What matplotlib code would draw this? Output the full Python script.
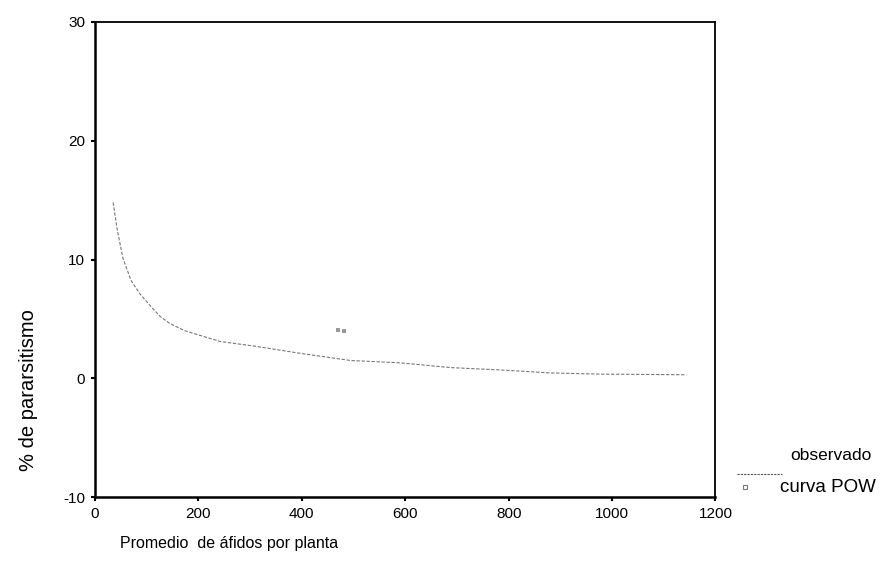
import matplotlib
matplotlib.use("Agg")
import matplotlib.pyplot as plt
from matplotlib.lines import Line2D

plt.rcParams['font.family'] = ['Liberation Sans', 'DejaVu Sans']
plt.rcParams['axes.unicode_minus'] = False

# curva POW
curve_x = [35, 43, 54, 70, 87, 107, 126, 145, 174, 204, 242, 310, 397,
           494, 591, 688, 785, 882, 979, 1144]
curve_y = [14.8, 12.5, 10.1, 8.2, 7.1, 6.1, 5.2, 4.6, 4.0, 3.6, 3.1, 2.7,
           2.1, 1.5, 1.3, 0.9, 0.7, 0.45, 0.35, 0.3]

# observado
obs_x = [469, 482]
obs_y = [4.05, 3.97]

x_ticks = [0, 200, 400, 600, 800, 1000, 1200]
y_ticks = [-10, 0, 10, 20, 30]

fig = plt.figure(figsize=(8.8, 5.78), dpi=100)
ax = fig.add_axes([0.108, 0.140, 0.705, 0.822])

ax.plot(curve_x, curve_y, color='#777777', lw=0.8, linestyle=(0, (3, 1.5)))
ax.plot(obs_x, obs_y, linestyle='none', marker='s', markersize=2.2,
        color='#999999', markeredgewidth=0)

ax.set_xlim(0, 1200)
ax.set_ylim(-10, 30)
ax.set_xticks(x_ticks)
ax.set_yticks(y_ticks)
ax.tick_params(direction='out', length=3, width=1.5, labelsize=11, pad=4)

for s in ['left', 'bottom']:
    ax.spines[s].set_linewidth(1.8)
for s in ['top', 'right']:
    ax.spines[s].set_linewidth(1.3)

fig.text(0.032, 0.326, '% de pararsitismo', rotation=90, fontsize=14.5,
         ha='center', va='center')
fig.text(0.136, 0.060, 'Promedio  de áfidos por planta', fontsize=11.5,
         ha='left', va='center')

# legend drawn the way the original shows it
fig.text(0.898, 0.212, 'observado', fontsize=12.5, ha='left', va='center')
fig.add_artist(Line2D([0.838, 0.889], [0.180, 0.180], color='#555555',
                      lw=0.8, linestyle=(0, (2, 1))))
fig.add_artist(Line2D([0.847], [0.157], marker='s', markersize=3,
                      markerfacecolor='none', markeredgecolor='#777777',
                      markeredgewidth=0.8))
fig.text(0.886, 0.157, 'curva POW', fontsize=13.5, ha='left', va='center')

fig.savefig('out.png', dpi=100)
